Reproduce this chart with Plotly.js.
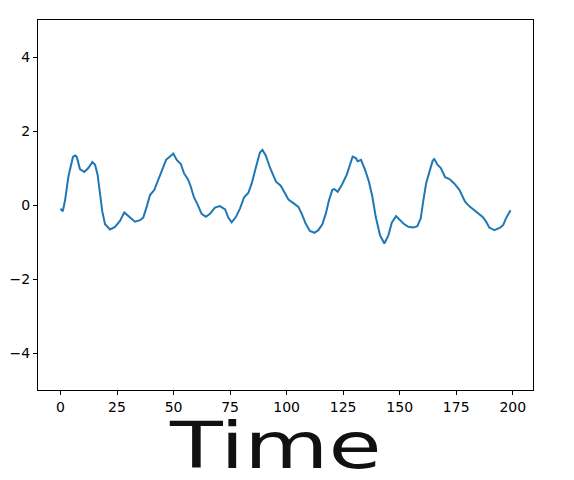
<!DOCTYPE html>
<html>
<head>
<meta charset="utf-8">
<script src="https://cdn.plot.ly/plotly-3.0.1.min.js"></script>
<style>
  body { margin: 0; background: #fff; }
  #graph { width: 574px; height: 480px; }
  /* the big axis word is drawn stretched in the original */
  .annotation-text { transform: scaleX(1.35); transform-box: fill-box; transform-origin: center; }
</style>
</head>
<body>
<div id="graph"></div>
<script>
// values
var timeSteps = [0, 1, 2, 3.5, 5.5, 6.5, 7.2, 8.6, 10.5, 12.3, 14.1, 15.3, 16.4, 17.5, 18.5, 19.7,
    21.9, 24.1, 26.3, 28.2, 30, 32.9, 35.2, 36.6, 38.1, 39.6, 41.5, 43.3, 45, 46.7, 48.4, 49.9,
    51.4, 53.2, 54.6, 56.5, 57.6, 59, 60.5, 62.4, 64.3, 66.1, 68.3, 70.5, 72.8, 74.2, 75.7, 77.6,
    79.4, 81.2, 83.1, 84.6, 86.5, 88.2, 89.3, 90.8, 92.7, 95.3, 97.4, 99.3, 100.8, 103, 105.2,
    106.7, 108.4, 110.3, 112.3, 114, 115.8, 117.3, 118.7, 120.2, 121.1, 122.6, 124.4, 126.6, 128,
    129.2, 130.6, 131.4, 132.9, 134.7, 136.4, 137.9, 139.4, 141.3, 143.2, 145, 146.5, 148.4, 150.2,
    151.6, 153.8, 156, 157.8, 159.3, 160.5, 161.7, 163.4, 164.6, 165.3, 166.7, 168.2, 170.1, 172,
    174, 176.4, 178.9, 181.1, 183.8, 186.7, 188.2, 189.6, 191.9, 194.4, 195.8, 197, 199];

var signal = [-0.1, -0.17, 0.12, 0.77, 1.3, 1.34, 1.3, 0.97, 0.89, 1.0, 1.16, 1.09, 0.82, 0.36, -0.18, -0.52,
    -0.66, -0.59, -0.43, -0.2, -0.3, -0.45, -0.41, -0.34, -0.05, 0.27, 0.41, 0.68, 0.97, 1.22, 1.31, 1.39,
    1.22, 1.11, 0.86, 0.68, 0.5, 0.21, 0.03, -0.24, -0.32, -0.24, -0.07, -0.03, -0.12, -0.34, -0.47, -0.32,
    -0.09, 0.21, 0.33, 0.59, 1.04, 1.42, 1.49, 1.33, 1.0, 0.63, 0.52, 0.32, 0.15, 0.05, -0.05,
    -0.24, -0.5, -0.7, -0.75, -0.68, -0.52, -0.24, 0.12, 0.41, 0.43, 0.36, 0.54, 0.82, 1.09,
    1.31, 1.27, 1.18, 1.22, 0.95, 0.63, 0.23, -0.32, -0.82, -1.04, -0.82, -0.48, -0.3, -0.41,
    -0.5, -0.59, -0.61, -0.57, -0.36, 0.14, 0.59, 0.95, 1.2, 1.24, 1.09, 1.0, 0.75, 0.7,
    0.59, 0.41, 0.09, -0.05, -0.18, -0.32, -0.45, -0.61, -0.68, -0.61, -0.54, -0.36, -0.14];

var xTicks = [0, 25, 50, 75, 100, 125, 150, 175, 200];
var yTicks = [-4, -2, 0, 2, 4];
var axisLabel = "Time";

function drawGraph() {
    var trace = {
        x: timeSteps,
        y: signal,
        type: "scatter",
        mode: "lines",
        line: { color: "#1f77b4", width: 2 },
        hoverinfo: "skip"
    };

    var axisStyle = {
        showgrid: false,
        zeroline: false,
        showline: true,
        mirror: true,
        linecolor: "#000",
        linewidth: 1,
        ticks: "outside",
        ticklen: 4,
        tickwidth: 1,
        tickcolor: "#000",
        tickfont: { family: "DejaVu Sans", size: 14, color: "#000" },
        tickmode: "array"
    };

    var layout = {
        width: 574,
        height: 480,
        margin: { l: 38, r: 41, t: 20, b: 90 },
        paper_bgcolor: "#fff",
        plot_bgcolor: "#fff",
        showlegend: false,
        xaxis: Object.assign({}, axisStyle, {
            range: [-9.95, 208.95],
            tickvals: xTicks,
            ticktext: xTicks.map(String)
        }),
        yaxis: Object.assign({}, axisStyle, {
            range: [-5, 5],
            tickvals: yTicks
        }),
        annotations: [{
            text: axisLabel,
            xref: "paper",
            yref: "paper",
            x: 0.479,
            y: -0.149,
            xanchor: "center",
            yanchor: "middle",
            showarrow: false,
            font: { family: "DejaVu Sans", size: 64, color: "#111" }
        }]
    };

    Plotly.newPlot("graph", [trace], layout, { staticPlot: true });
}

drawGraph();
</script>
</body>
</html>
